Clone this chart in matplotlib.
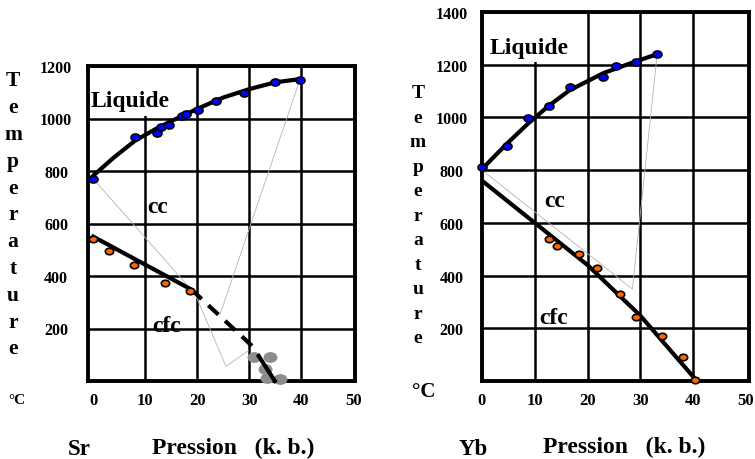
import matplotlib
matplotlib.use("Agg")
import matplotlib.pyplot as plt
from matplotlib.path import Path
from matplotlib.transforms import Affine2D
from matplotlib.patches import Rectangle

plt.rcParams["font.family"] = ["Liberation Serif", "DejaVu Serif"]
plt.rcParams["font.weight"] = "bold"

# --- Sr (left panel) ---
sr_liq_p = [0, 8.0, 12.2, 13.0, 14.6, 17.0, 17.8, 20.2, 23.6, 29.0, 34.9, 39.7]
sr_liq_t = [770, 928, 945, 969, 976, 1011, 1017, 1034, 1066, 1097, 1138, 1147]
sr_liq_curve_p = [0, 4, 8, 12, 15, 20, 25, 30, 35, 39.7]
sr_liq_curve_t = [782, 852, 915, 960, 990, 1037, 1080, 1112, 1138, 1150]
sr_cfc_p = [0, 3.0, 7.9, 13.7, 18.6]
sr_cfc_t = [541, 496, 443, 373, 342]
sr_cfc_line_p = [0, 18.9]
sr_cfc_line_t = [550, 348]
sr_dash_p = [18.9, 30.5]
sr_dash_t = [348, 134]
sr_high_p = [31.8, 34.9]
sr_high_t = [95, 0]
sr_gray_p = [30.9, 33.9, 33.0, 33.3, 35.9]
sr_gray_t = [90, 90, 46, 10, 8]
sr_thin1_p = [0, 19.6, 25.5, 29.8]
sr_thin1_t = [770, 331, 56, 115]
sr_thin2_p = [39.7, 24.4]
sr_thin2_t = [1147, 255]

# --- Yb (right panel) ---
yb_liq_p = [0, 4.8, 8.8, 12.7, 16.6, 23.0, 25.4, 29.2, 33.2]
yb_liq_t = [813, 890, 997, 1042, 1114, 1154, 1194, 1209, 1240]
yb_liq_curve_p = [0, 2, 4.8, 8.8, 12.7, 16.6, 23.0, 29.2, 33.2]
yb_liq_curve_t = [804, 845, 902, 978, 1045, 1103, 1168, 1213, 1240]
yb_cfc_p = [12.7, 14.3, 18.4, 21.7, 26.2, 29.2, 34.1, 38.0, 40.4]
yb_cfc_t = [539, 511, 482, 428, 330, 242, 172, 90, 5]
yb_cfc_line_p = [0, 10, 20, 30, 40.3]
yb_cfc_line_t = [760, 600, 440, 248, 10]
yb_thin_p = [0, 28.5, 33.2]
yb_thin_t = [800, 349, 1240]

x_ticks = [0, 10, 20, 30, 40, 50]
x_grid = [10, 20, 30, 40]
sr_y_ticks = [200, 400, 600, 800, 1000, 1200]
yb_y_ticks = [200, 400, 600, 800, 1000, 1200, 1400]

W, H = 755, 460
fig = plt.figure(figsize=(7.55, 4.6), dpi=100)

ell = Path.unit_circle().transformed(Affine2D().scale(1.0, 0.78))
blue = "#0000ff"
orange = "#ff6600"
gray = "#8c8c8c"


def fx(px):
    return px / W


def fy(py):
    return 1 - py / H


def setup(ax, xlim, ylim, yticks, ypad):
    ax.set_xlim(*xlim)
    ax.set_ylim(*ylim)
    ax.set_xticks(x_ticks)
    ax.set_yticks(yticks)
    ax.tick_params(which="both", length=0)
    ax.tick_params(axis="x", labelsize=12, pad=8)
    ax.tick_params(axis="y", labelsize=11.5, pad=ypad)
    for lab in ax.get_yticklabels():
        lab.set_horizontalalignment("center")
    for gx in x_grid:
        ax.axvline(gx, color="black", lw=1.8, zorder=1.5)
    ax.grid(True, axis="y", color="black", lw=1.8)
    for s in ax.spines.values():
        s.set_linewidth(2.8)


# left panel
ax1 = fig.add_axes([fx(88), fy(382), 267 / W, 315 / H])
setup(ax1, (-1, 50.3), (0, 1200), sr_y_ticks, 23)
ax1.add_patch(Rectangle((-0.9, 1008), 16.5, 184, facecolor="white",
                        edgecolor="none", zorder=1.8))
ax1.plot(sr_thin1_p, sr_thin1_t, color="#b4b4b4", lw=0.6, zorder=2)
ax1.plot(sr_thin2_p, sr_thin2_t, color="#b4b4b4", lw=0.6, zorder=2)
ax1.plot(sr_liq_curve_p, sr_liq_curve_t, color="black", lw=3, zorder=3)
ax1.plot(sr_cfc_line_p, sr_cfc_line_t, color="black", lw=3, zorder=3)
ax1.plot(sr_dash_p, sr_dash_t, color="black", lw=3, zorder=3,
         linestyle=(0, (3.3, 2.2)))
ax1.plot(sr_high_p, sr_high_t, color="black", lw=3, zorder=5, clip_on=False)
ax1.plot(sr_gray_p, sr_gray_t, ls="none", marker=ell, ms=10, color=gray,
         mec="none", zorder=4, clip_on=False)
ax1.plot(sr_liq_p, sr_liq_t, ls="none", marker=ell, ms=6.5, mfc=blue,
         mec="black", mew=1.2, zorder=4, clip_on=False)
ax1.plot(sr_cfc_p, sr_cfc_t, ls="none", marker=ell, ms=6, mfc=orange,
         mec="black", mew=1.2, zorder=4, clip_on=False)
ax1.text(-0.5, 1067, "Liquide", fontsize=17, ha="left", va="center", zorder=6)
ax1.text(12.3, 663, "cc", fontsize=17, ha="center", va="center", zorder=6)
ax1.text(14.0, 212, "cfc", fontsize=17, ha="center", va="center", zorder=6)

# right panel
ax2 = fig.add_axes([fx(482), fy(382), 267 / W, 369 / H])
setup(ax2, (0, 50.6), (0, 1400), yb_y_ticks, 22)
ax2.add_patch(Rectangle((0.1, 1210), 16.8, 182, facecolor="white",
                        edgecolor="none", zorder=1.8))
ax2.plot(yb_thin_p, yb_thin_t, color="#b4b4b4", lw=0.6, zorder=2)
ax2.plot(yb_liq_curve_p, yb_liq_curve_t, color="black", lw=3, zorder=3)
ax2.plot(yb_cfc_line_p, yb_cfc_line_t, color="black", lw=3, zorder=3)
ax2.plot(yb_liq_p, yb_liq_t, ls="none", marker=ell, ms=6.5, mfc=blue,
         mec="black", mew=1.2, zorder=4, clip_on=False)
ax2.plot(yb_cfc_p, yb_cfc_t, ls="none", marker=ell, ms=6, mfc=orange,
         mec="black", mew=1.2, zorder=4, clip_on=False)
ax2.text(1.5, 1267, "Liquide", fontsize=17, ha="left", va="center", zorder=6)
ax2.text(13.7, 683, "cc", fontsize=17, ha="center", va="center", zorder=6)
ax2.text(13.5, 241, "cfc", fontsize=17, ha="center", va="center", zorder=6)

# stacked axis titles
for i, ch in enumerate("Temperature"):
    fig.text(fx(13), fy(86.5 + 26.8 * i), ch, fontsize=15.5, ha="center",
             va="baseline")
    fig.text(fx(418), fy(98.3 + 24.5 * i), ch, fontsize=14, ha="center",
             va="baseline")

fig.text(fx(8), fy(404), "°C", fontsize=11, ha="left", va="baseline")
fig.text(fx(412), fy(397), "°C", fontsize=15, ha="left", va="baseline")

fig.text(fx(68), fy(455), "Sr", fontsize=16.5, ha="left", va="baseline")
fig.text(fx(152), fy(454), "Pression   (k. b.)", fontsize=17, ha="left",
         va="baseline")
fig.text(fx(459), fy(455), "Yb", fontsize=16.5, ha="left", va="baseline")
fig.text(fx(543), fy(453), "Pression   (k. b.)", fontsize=17, ha="left",
         va="baseline")

fig.savefig("out.png", dpi=100)
